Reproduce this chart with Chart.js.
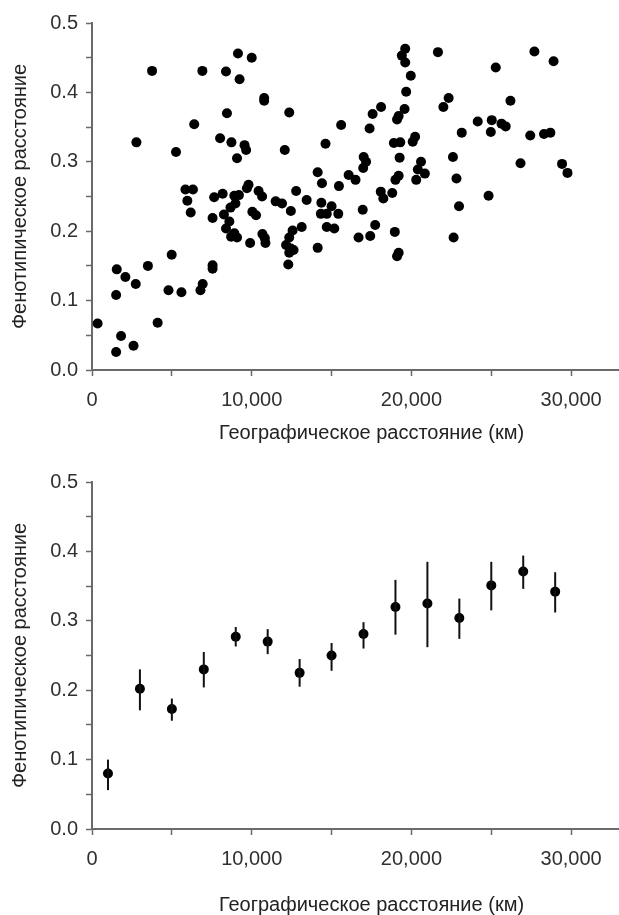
<!DOCTYPE html>
<html>
<head>
<meta charset="utf-8">
<script src="https://cdn.jsdelivr.net/npm/chart.js@4/dist/chart.umd.min.js"></script>
<style>
  html, body { margin: 0; padding: 0; background: #fff; overflow: hidden; width: 619px; height: 915px; }
  .wrap { position: relative; width: 663px; }
  #w1 { height: 445px; }
  #w2 { height: 470px; }
</style>
</head>
<body>
<div class="wrap" id="w1"><canvas id="c1"></canvas></div>
<div class="wrap" id="w2"><canvas id="c2"></canvas></div>
<script>
// ---- Data (distance in km, phenotypic distance) ----
const scatterX = [350,1510,1550,2090,2740,3500,1820,1510,2600,4110,4790,4990,5600,6790,6930,7550,7550,2780,3760,5260,6400,6910,8390,9140,9240,8450,8020,8730,9550,9650,9080,5850,6320,5970,6180,7550,7650,8180,8260,8600,8390,8710,8910,9080,8670,8980,8910,9200,9800,9700,10430,10650,10000,10780,10780,12350,12070,12780,10040,10270,9900,10670,10820,10860,11500,11900,12450,13440,13130,12560,12350,12150,12450,12620,12350,12290,14130,14620,15600,14130,14400,16070,16500,15460,14360,15000,14330,14700,15420,14700,15170,16950,17730,17420,16690,17010,17160,16980,17570,18100,17380,18080,18240,18800,18960,19100,19200,19610,19400,19610,19960,19670,19570,19200,19100,18900,19300,20230,20080,19260,19200,19000,20400,20600,20300,20840,21660,22330,22000,22600,22820,22980,22640,23150,24150,24970,25030,25280,25640,25900,24830,26200,26830,27440,27700,28300,28700,28900,29430,29770];
const scatterY = [0.067,0.108,0.145,0.134,0.124,0.150,0.049,0.026,0.035,0.068,0.115,0.166,0.112,0.115,0.124,0.151,0.146,0.328,0.431,0.314,0.354,0.431,0.430,0.456,0.419,0.370,0.334,0.328,0.324,0.317,0.305,0.260,0.260,0.244,0.227,0.219,0.249,0.254,0.224,0.214,0.204,0.192,0.197,0.191,0.234,0.240,0.251,0.252,0.267,0.262,0.258,0.250,0.450,0.392,0.388,0.371,0.317,0.258,0.228,0.223,0.183,0.196,0.190,0.183,0.243,0.240,0.229,0.245,0.206,0.201,0.191,0.180,0.175,0.173,0.169,0.152,0.176,0.326,0.353,0.285,0.269,0.281,0.274,0.265,0.241,0.236,0.225,0.225,0.225,0.206,0.204,0.231,0.209,0.193,0.191,0.307,0.300,0.291,0.369,0.379,0.348,0.257,0.247,0.255,0.199,0.164,0.169,0.463,0.453,0.443,0.424,0.401,0.376,0.366,0.361,0.327,0.328,0.336,0.329,0.306,0.280,0.274,0.289,0.300,0.274,0.283,0.458,0.392,0.379,0.307,0.276,0.236,0.191,0.342,0.358,0.343,0.360,0.436,0.355,0.351,0.251,0.388,0.298,0.338,0.459,0.340,0.342,0.445,0.297,0.284];

const binX    = [1000,3000,5000,7000,9000,11000,13000,15000,17000,19000,21000,23000,25000,27000,29000];
const binMean = [0.080,0.202,0.173,0.230,0.277,0.270,0.225,0.250,0.281,0.320,0.325,0.304,0.351,0.371,0.342];
const binLow  = [0.056,0.171,0.156,0.204,0.263,0.252,0.205,0.228,0.260,0.280,0.262,0.274,0.315,0.346,0.312];
const binHigh = [0.100,0.230,0.188,0.255,0.291,0.288,0.245,0.268,0.298,0.359,0.385,0.332,0.385,0.394,0.370];

const xTickValues = [0,5000,10000,15000,20000,25000,30000,35000];
const xTickLabels = ['0','','10,000','','20,000','','30,000',''];
const yTickValues = [0,0.05,0.1,0.15,0.2,0.25,0.3,0.35,0.4,0.45,0.5];
const yTickLabels = ['0.0','','0.1','','0.2','','0.3','','0.4','','0.5'];

const xTitle = 'Географическое расстояние (км)';
const yTitle = 'Фенотипическое расстояние';

// ---- styling ----
const FONT = "'Liberation Sans', Arial, sans-serif";
const AXIS = '#6a6a6a';
const TXT = '#303030';

function scales(xHeight, tickPad, titlePadBottom) {
  return {
    x: {
      type: 'linear', min: 0, max: 35000,
      afterBuildTicks: s => { s.ticks = xTickValues.map(v => ({ value: v })); },
      afterFit: s => { s.height = xHeight; },
      ticks: {
        autoSkip: false, maxRotation: 0, minRotation: 0, padding: tickPad,
        color: TXT, font: { family: FONT, size: 20 },
        callback: (v) => { const i = xTickValues.indexOf(v); return i >= 0 ? xTickLabels[i] : ''; }
      },
      grid: { drawOnChartArea: false, drawTicks: true, tickLength: 6, tickColor: AXIS, tickWidth: 1.5 },
      border: { display: true, color: AXIS, width: 2 },
      title: { display: true, text: xTitle, color: '#222', font: { family: FONT, size: 20, lineHeight: 1.0 }, padding: { top: 0, bottom: titlePadBottom } }
    },
    y: {
      type: 'linear', min: 0, max: 0.5,
      afterBuildTicks: s => { s.ticks = yTickValues.map(v => ({ value: v })); },
      afterFit: s => { s.width = 92; },
      ticks: {
        autoSkip: false, padding: 8, color: TXT, font: { family: FONT, size: 20 },
        callback: (v) => { const i = yTickValues.findIndex(t => Math.abs(t - v) < 1e-9); return i >= 0 ? yTickLabels[i] : ''; }
      },
      grid: { drawOnChartArea: false, drawTicks: true, tickLength: 6, tickColor: AXIS, tickWidth: 1.5 },
      border: { display: true, color: AXIS, width: 2 },
      title: { display: true, text: yTitle, color: '#222', font: { family: FONT, size: 20, lineHeight: 1.0 }, padding: { top: 10, bottom: 0 } }
    }
  };
}

const common = {
  responsive: true, maintainAspectRatio: false, animation: false, devicePixelRatio: 1,
  plugins: { legend: { display: false }, tooltip: { enabled: false } }
};

new Chart(document.getElementById('c1'), {
  type: 'scatter',
  data: { datasets: [{
    data: scatterX.map((x, i) => ({ x: x, y: scatterY[i] })),
    pointRadius: 5, backgroundColor: '#000', borderWidth: 0
  }]},
  options: Object.assign({}, common, {
    layout: { padding: { top: 23, left: 0, right: 0, bottom: 0 } },
    scales: scales(75, 12, 2)
  })
});

// error bars drawn through the chart's scales
const errorBars = {
  id: 'errorBars',
  afterDatasetsDraw(chart) {
    const { ctx, scales: { x, y } } = chart;
    ctx.save();
    ctx.strokeStyle = '#111';
    ctx.lineWidth = 2;
    binX.forEach((bx, i) => {
      const px = x.getPixelForValue(bx);
      ctx.beginPath();
      ctx.moveTo(px, y.getPixelForValue(binLow[i]));
      ctx.lineTo(px, y.getPixelForValue(binHigh[i]));
      ctx.stroke();
    });
    ctx.restore();
  }
};

new Chart(document.getElementById('c2'), {
  type: 'scatter',
  data: { datasets: [{
    data: binX.map((x, i) => ({ x: x, y: binMean[i] })),
    pointRadius: 5, backgroundColor: '#000', borderWidth: 0
  }]},
  options: Object.assign({}, common, {
    layout: { padding: { top: 37, left: 0, right: 0, bottom: 0 } },
    scales: scales(86, 12, 0)
  }),
  plugins: [errorBars]
});
</script>
</body>
</html>
